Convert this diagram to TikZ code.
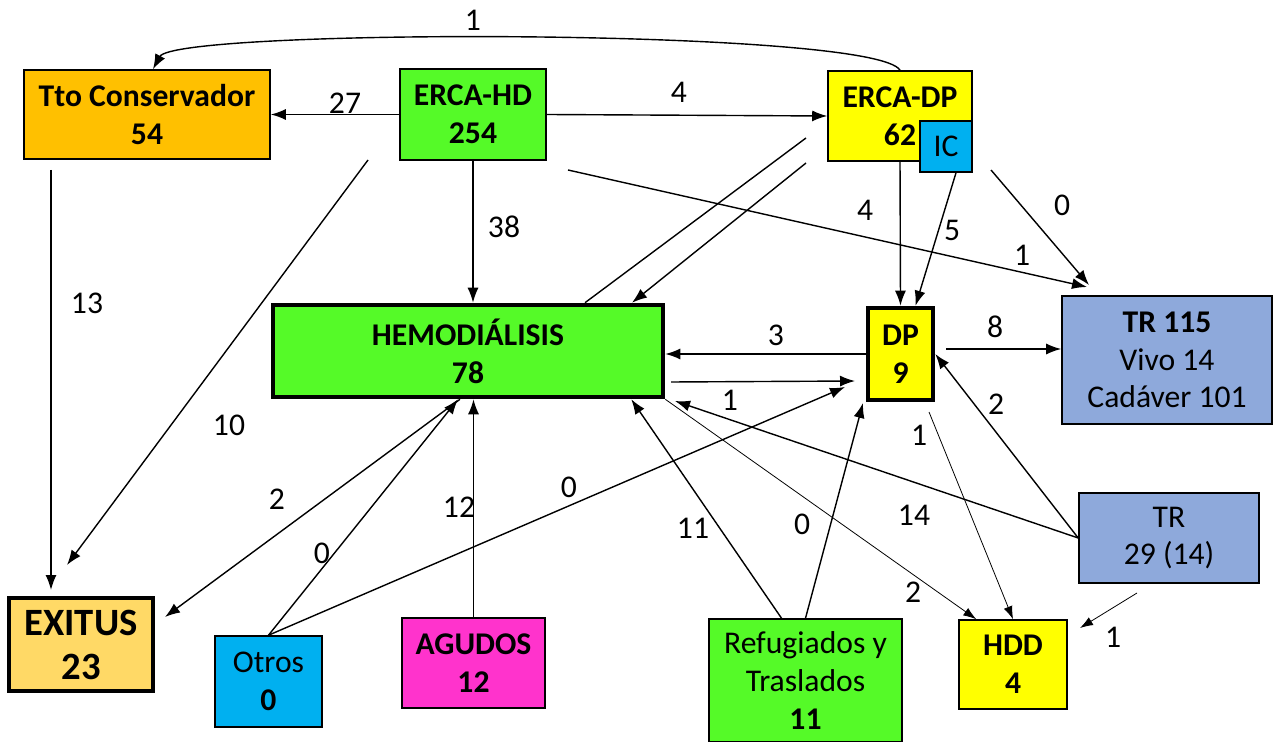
\documentclass[tikz,border=0pt]{standalone}
\usepackage{fontspec}
\setmainfont{Carlito}
\usetikzlibrary{calc}
\usetikzlibrary{arrows.meta}

\definecolor{hdgreen}{RGB}{85,250,40}
\definecolor{ttoorange}{RGB}{255,192,0}
\definecolor{exitusorange}{RGB}{255,217,102}
\definecolor{dpyellow}{RGB}{255,255,0}
\definecolor{iccyan}{RGB}{0,176,240}
\definecolor{agudospink}{RGB}{255,51,204}
\definecolor{trblue}{RGB}{142,169,219}

\newcommand{\flowfont}{\fontsize{18}{21.5}\selectfont}

\begin{document}
\begin{tikzpicture}[x=0.02cm, y=-0.02cm,
    box/.style={draw, line width=0.9pt, align=center, inner sep=0pt, font=\flowfont},
    thickbox/.style={box, line width=2.6pt},
    boxsize/.style 2 args={minimum width=#1*0.02cm, minimum height=#2*0.02cm},
    flow/.style={-{Latex[length=3mm, width=2.2mm]}, line width=0.8pt},
    thinflow/.style={-{Latex[length=2.6mm, width=1.8mm]}, line width=0.45pt},
    num/.style={font=\flowfont, inner sep=1pt}]

\useasboundingbox (0,0) rectangle (1273,742);

% Boxes
\node[box, fill=ttoorange, boxsize={246}{89}] (tto) at (147,114.5) {\textbf{Tto Conservador}\\\textbf{54}};
\node[box, fill=hdgreen, boxsize={146}{91}] (ercahd) at (473,114.5) {\textbf{ERCA-HD}\\\textbf{254}};
\node[box, fill=dpyellow, boxsize={144}{90}] (ercadp) at (900,116) {\textbf{ERCA-DP}\\\textbf{62}};
\node[box, fill=iccyan, boxsize={52}{51}] (ic) at (946,146.5) {IC};
\node[thickbox, fill=hdgreen, boxsize={390}{92}] (hemo) at (468,351) {\textbf{HEMODIÁLISIS}\\\textbf{78}};
\node[thickbox, fill=dpyellow, boxsize={65}{92}] (dp) at (900.5,354) {\textbf{DP}\\\textbf{9}};
\node[box, fill=trblue, boxsize={210}{128}] (tr115) at (1167,360) {\textbf{TR 115}\\Vivo 14\\Cadáver 101};
\node[box, fill=trblue, boxsize={180}{90}] (tr29) at (1169,538) {TR\\29 (14)};
\node[box, fill=dpyellow, boxsize={108}{89}] (hdd) at (1013,664.5) {\textbf{HDD}\\\textbf{4}};
\node[box, fill=hdgreen, boxsize={193}{123}] (refug) at (805.5,680.5) {Refugiados y\\Traslados\\\textbf{11}};
\node[thickbox, fill=exitusorange, boxsize={144}{93}, font=\fontsize{22}{25}\selectfont] (exitus) at (81,644.5) {\textbf{EXITUS}\\\textbf{23}};
\node[box, fill=iccyan, boxsize={107}{91}] (otros) at (268.5,681.5) {Otros\\\textbf{0}};
\node[box, fill=agudospink, boxsize={143}{90}] (agudos) at (473.5,663) {\textbf{AGUDOS}\\\textbf{12}};

% Loose ends
\coordinate (hdToEx) at (368,160);
\coordinate (exFromHd) at (67,565);
\coordinate (ttoToEx) at (51,170);
\coordinate (exFromTto) at (51,590);
\coordinate (hdToTr) at (568,170);
\coordinate (trFromHd) at (1087,287);
\coordinate (dpToTr) at (991,170);
\coordinate (trFromDp) at (1089,285);
\coordinate (ercadpA) at (806,138);
\coordinate (ercadpB) at (806,163);
\coordinate (hemoToDp) at (671,382);
\coordinate (dpFromHemo) at (855,381);
\coordinate (dpToTr115) at (946,349);
\coordinate (hemoFromTr) at (675,401);
\coordinate (dpToHdd) at (929,412);
\coordinate (trToHdd) at (1137,593);
\coordinate (hddFromTr) at (1080,628);
\coordinate (dpFromRefug) at (863,403);
\coordinate (dpFromOtros) at (845,387);
\coordinate (exFromHemo) at (165,617);

% Connectors
\draw[flow] (ercadp.north) .. controls (875,28) and (175,28) .. ($(tto.north)+(6,0)$);
\draw[flow] (ercahd.west) -- (tto.east);
\draw[flow] (ercahd.east) -- (ercadp.west);
\draw[flow] (ercahd.south) -- (ercahd.south |- hemo.north);
\draw[flow] (hdToEx) -- (exFromHd);
\draw[flow] (ttoToEx) -- (exFromTto);
\draw[flow] (hdToTr) -- (trFromHd);
\draw[flow] (dpToTr) -- (trFromDp);
\draw[flow] (ercadp.south) -- (dp.north);
\draw[flow] ($(ic.south)+(10,0)$) -- ($(dp.north)+(15,0)$);
\draw[line width=0.8pt] (ercadpA) -- ($(hemo.north)+(117,0)$);
\draw[flow] (ercadpB) -- ($(hemo.north)+(164,0)$);
\draw[flow] (dp.west) -- (dp.west -| hemo.east);
\draw[flow] (hemoToDp) -- (dpFromHemo);
\draw[flow] (dpToTr115) -- (dpToTr115 -| tr115.west);
\draw[flow] (tr29.west) -- (dp.east);
\draw[flow] (tr29.west) -- (hemoFromTr);
\draw[thinflow] (hemo.south east) -- ($(hdd.north west)+(18,0)$);
\draw[thinflow] (dpToHdd) -- (hdd.north);
\draw[thinflow] (trToHdd) -- (hddFromTr);
\draw[flow] ($(refug.north)+(-24,0)$) -- ($(hemo.south east)+(-34,0)$);
\draw[flow] (refug.north) -- (dpFromRefug);
\draw[flow] (otros.north) -- (dpFromOtros);
\draw[flow] (otros.north) -- ($(hemo.south)+(-10,0)$);
\draw[flow] ($(hemo.south)+(-8,0)$) -- (exFromHemo);
\draw[flow] (agudos.north) -- (agudos.north |- hemo.south);

% Numbers
\node[num] (nCurve) at (473,20) {1};
\node[num] (nTto) at (345,103) {27};
\node[num] (nErcadp) at (679,92) {4};
\node[num] (nHemo) at (504,227) {38};
\node[num] (nTtoEx) at (87,303) {13};
\node[num] (nHdEx) at (229,425) {10};
\node[num] (nDpDown) at (865,210) {4};
\node[num] (nIc) at (952,230) {5};
\node[num] (nDpTr) at (1062,205) {0};
\node[num] (nHdTr) at (1022,255) {1};
\node[num] (nDpHemo) at (776,335) {3};
\node[num] (nHemoDp) at (730,400) {1};
\node[num] (nDpTr115) at (995,327) {8};
\node[num] (nTrDp) at (996,404) {2};
\node[num] (nDpHdd) at (919,435) {1};
\node[num] (nTrHemo) at (914,515) {14};
\node[num] (nRefHemo) at (693,528) {11};
\node[num] (nRefDp) at (802,524) {0};
\node[num] (nHemoHdd) at (913,592) {2};
\node[num] (nTrHdd) at (1113,637) {1};
\node[num] (nHemoEx) at (277,499) {2};
\node[num] (nOtrosHemo) at (322,553) {0};
\node[num] (nAgudos) at (459,507) {12};
\node[num] (nOtrosDp) at (569,487) {0};
\end{tikzpicture}
\end{document}
